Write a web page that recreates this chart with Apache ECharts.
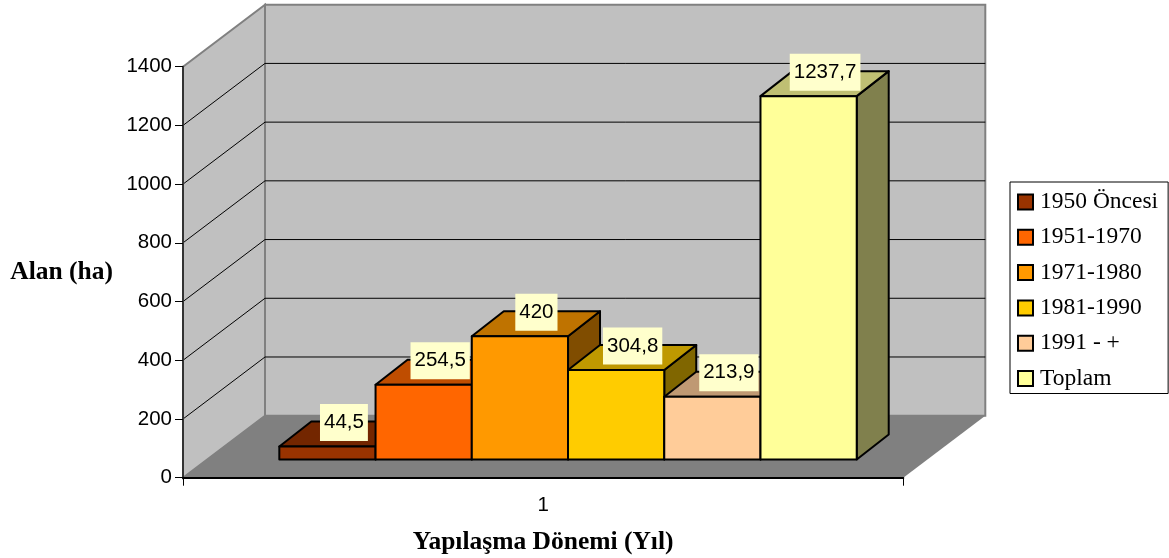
<!DOCTYPE html>
<html><head><meta charset="utf-8">
<style>html,body{margin:0;padding:0;background:#fff}#c{width:1169px;height:558px}</style>
<script src="https://cdn.jsdelivr.net/npm/echarts@6/dist/echarts.min.js"></script>
</head><body><div id="c"></div>
<script>
const categories = ['1'];
const seriesNames = ['1950 Öncesi','1951-1970','1971-1980','1981-1990','1991 - +','Toplam'];
const seriesValues = [44.5,254.5,420,304.8,213.9,1237.7];
const seriesColors = ['#993300','#FF6600','#FF9900','#FFCC00','#FFCC99','#FFFF99'];
const sideColors = ['#4D1A00','#803300','#804D00','#806600','#80664D','#80804D'];
const topColors = ['#732600','#BF4D00','#BF7300','#BF9900','#BF9973','#BFBF73'];
const yTicks = [0,200,400,600,800,1000,1200,1400];

// 3D projection layout, in pixels
const WALL_DX = 82, WALL_DY = 62;
const BAR_DX = 32, BAR_DY = 25;
const BASE_LIFT = 18.2;
const BAR_RATIO = 0.1336, BLOCK_SHIFT = 24.87;

const chart = echarts.init(document.getElementById('c'), null, {renderer:'canvas'});

function renderWalls(params, api){
  const v = api.value(1);
  const p = api.coord([0, v]);
  const w = api.size([1,0])[0];
  const L = p[0]-w/2, R = p[0]+w/2;
  const children = [];
  if (params.dataIndex === 0) {
    const y0 = p[1];
    const yT = api.coord([0, yTicks[yTicks.length-1]])[1];
    const wall = {stroke:'#808080', lineWidth:2, fill:'#C0C0C0'};
    children.push({type:'polygon', shape:{points:[[L+WALL_DX,yT-WALL_DY],[R+WALL_DX,yT-WALL_DY],[R+WALL_DX,y0-WALL_DY],[L+WALL_DX,y0-WALL_DY]]}, style:wall});
    children.push({type:'polygon', shape:{points:[[L,yT],[L+WALL_DX,yT-WALL_DY],[L+WALL_DX,y0-WALL_DY],[L,y0]]}, style:wall});
    children.push({type:'polygon', shape:{points:[[L,y0],[R,y0],[R+WALL_DX,y0-WALL_DY],[L+WALL_DX,y0-WALL_DY]]}, style:{fill:'#808080'}});
  } else if (v < yTicks[yTicks.length-1]) {
    const line = {stroke:'#000', lineWidth:1};
    children.push({type:'polyline', shape:{points:[[L,p[1]],[L+WALL_DX,p[1]-WALL_DY],[R+WALL_DX,p[1]-WALL_DY]]}, style:Object.assign({fill:'none'},line)});
  }
  return {type:'group', children};
}

function barBox(i, api){
  const v = seriesValues[i];
  const zero = api.coord([0,0]);
  const top = api.coord([0,v]);
  const band = api.size([1,0])[0];
  const bw = band*BAR_RATIO;
  const x0 = zero[0]+BLOCK_SHIFT-3*bw+i*bw;
  return {x0, x1:x0+bw, yb:zero[1]-BASE_LIFT, yt:top[1]-BASE_LIFT};
}

function makeBarRender(i){
  return function(params, api){
    const b = barBox(i, api);
    const st = {stroke:'#000', lineWidth:2, lineJoin:'round'};
    return {type:'group', children:[
      {type:'polygon', shape:{points:[[b.x1,b.yt],[b.x1+BAR_DX,b.yt-BAR_DY],[b.x1+BAR_DX,b.yb-BAR_DY],[b.x1,b.yb]]}, style:Object.assign({fill:sideColors[i]},st)},
      {type:'polygon', shape:{points:[[b.x0,b.yt],[b.x0+BAR_DX,b.yt-BAR_DY],[b.x1+BAR_DX,b.yt-BAR_DY],[b.x1,b.yt]]}, style:Object.assign({fill:topColors[i]},st)},
      {type:'rect', shape:{x:b.x0,y:b.yt,width:b.x1-b.x0,height:b.yb-b.yt}, style:Object.assign({fill:seriesColors[i]},st)}
    ]};
  };
}

function renderLabel(params, api){
  const i = params.dataIndex;
  const b = barBox(i, api);
  return {type:'text', x:(b.x0+b.x1)/2+16.5, y:b.yt-24, style:{
    text:String(seriesValues[i]).replace('.',','),
    font:'20.5px "Liberation Sans"', fill:'#000',
    align:'center', verticalAlign:'middle',
    backgroundColor:'#FFFFCC', padding:[7,4], lineHeight:23
  }};
}

const series = [{
  type:'custom', name:'Duvar', z:1, silent:true, renderItem:renderWalls,
  data:yTicks.map(t=>[0,t])
}];
seriesNames.forEach((n,i)=>series.push({
  type:'custom', name:n, z:3+i, silent:true, renderItem:makeBarRender(i),
  itemStyle:{color:seriesColors[i]}, data:[[0,seriesValues[i]]]
}));
series.push({
  type:'custom', name:'Etiket', z:20, silent:true, renderItem:renderLabel,
  data:seriesValues.map(v=>[0,v])
});

chart.setOption({
  animation:false,
  backgroundColor:'#fff',
  legend:{
    data:seriesNames.map(n=>({name:n})),
    orient:'vertical', left:1010, top:182,
    padding:[8,10,3,7],
    backgroundColor:'#fff', borderColor:'#000', borderWidth:1,
    icon:'rect', itemWidth:15, itemHeight:15, itemGap:11.3,
    itemStyle:{borderColor:'#000', borderWidth:2},
    selectedMode:false,
    textStyle:{fontFamily:'"Liberation Serif"', fontSize:23.5, color:'#000', padding:[0,0,0,2]}
  },
  grid:{left:183, right:265.7, top:66.7, bottom:80.3, containLabel:false, outerBoundsMode:'none'},
  xAxis:{
    type:'category', data:categories, z:2,
    name:'Yapılaşma Dönemi (Yıl)', nameLocation:'middle', nameGap:52,
    nameTextStyle:{fontFamily:'"Liberation Serif"', fontSize:25.5, fontWeight:'bold', color:'#000'},
    axisLine:{show:true, lineStyle:{color:'#000', width:2}},
    axisTick:{show:true, length:8, lineStyle:{color:'#000', width:1}},
    axisLabel:{fontFamily:'"Liberation Sans"', fontSize:20.5, color:'#000', margin:17}
  },
  yAxis:{
    type:'value', min:0, max:1400, interval:200, z:2,
    name:'Alan (ha)', nameLocation:'middle', nameRotate:0, nameGap:70,
    nameTextStyle:{fontFamily:'"Liberation Serif"', fontSize:25.5, fontWeight:'bold', color:'#000', padding:[8,0,0,0]},
    splitLine:{show:false},
    axisLine:{show:true, lineStyle:{color:'#333', width:2}},
    axisTick:{show:true, length:8, lineStyle:{color:'#000', width:1}},
    axisLabel:{fontFamily:'"Liberation Sans"', fontSize:20.5, color:'#000', margin:11, formatter:v=>String(v)}
  },
  series
});
</script></body></html>
